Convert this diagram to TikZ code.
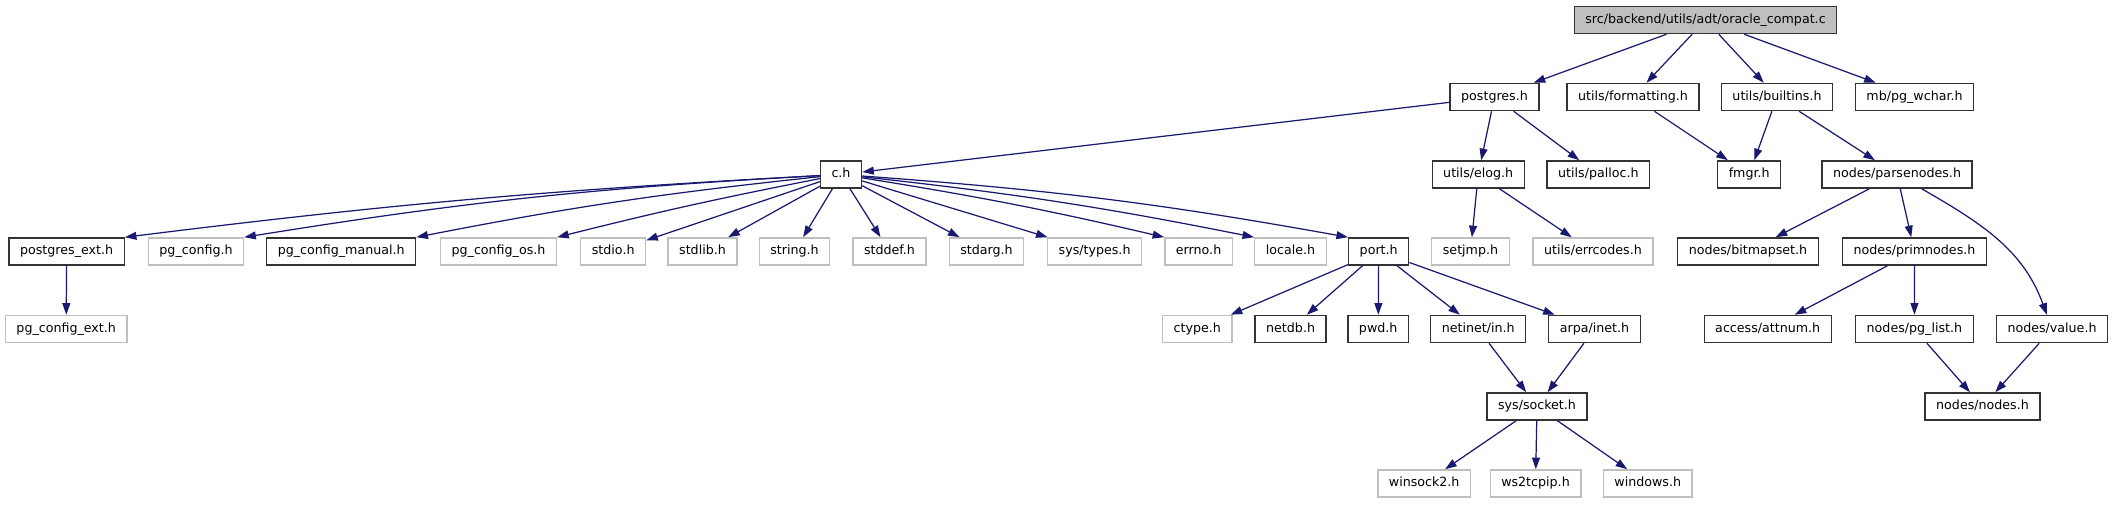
\documentclass[tikz,border=0pt]{standalone}
\usepackage{fontspec}
\setmainfont{DejaVu Sans}
\usetikzlibrary{arrows.meta}
\definecolor{edgeblue}{HTML}{191970}
\definecolor{extgray}{HTML}{BFBFBF}
\definecolor{boxline}{HTML}{333333}

\begin{document}
\begin{tikzpicture}[
  x=0.02cm, y=-0.02cm,
  hdr/.style={draw=boxline,line width=0.75pt,rectangle,inner xsep=6.3pt,inner ysep=0pt,
    minimum height=15.5pt,text height=5.4pt,text depth=1.6pt,font=\fontsize{7.2}{8.6}\selectfont},
  exthdr/.style={hdr,draw=extgray},
  rootnode/.style={hdr,fill=extgray},
  dep/.style={draw=edgeblue,line width=0.7pt,-{Triangle[length=6.6pt,width=4.5pt]}}
]
\path[use as bounding box,fill=white] (0,0) rectangle (2112,504);

% top
\node[rootnode] (root) at (1705.5,20) {src/backend/utils/adt/oracle\_compat.c};

\node[hdr] (pgres) at (1494.5,97) {postgres.h};
\node[hdr] (ufmt) at (1633,97) {utils/formatting.h};
\node[hdr] (ubuilt) at (1777,97) {utils/builtins.h};
\node[hdr] (wchar) at (1914.5,97) {mb/pg\_wchar.h};

\node[hdr] (ch) at (841,174.5) {c.h};
\node[hdr] (elog) at (1478.2,174.5) {utils/elog.h};
\node[hdr] (palloc) at (1598.4,174.5) {utils/palloc.h};
\node[hdr] (fmgr) at (1749.2,174.5) {fmgr.h};
\node[hdr] (pnodes) at (1897,174.5) {nodes/parsenodes.h};

% what c.h pulls in
\node[hdr] (pgext) at (66.6,251.5) {postgres\_ext.h};
\node[exthdr] (pgconf) at (196,251.5) {pg\_config.h};
\node[hdr] (pgman) at (341.2,251.5) {pg\_config\_manual.h};
\node[exthdr] (pgos) at (498.5,251.5) {pg\_config\_os.h};
\node[exthdr] (stdio) at (613.2,251.5) {stdio.h};
\node[exthdr] (stdlib) at (702.5,251.5) {stdlib.h};
\node[exthdr] (string) at (794.5,251.5) {string.h};
\node[exthdr] (stddef) at (889.5,251.5) {stddef.h};
\node[exthdr] (stdarg) at (986.5,251.5) {stdarg.h};
\node[exthdr] (systypes) at (1094.6,251.5) {sys/types.h};
\node[exthdr] (errno) at (1198.6,251.5) {errno.h};
\node[exthdr] (locale) at (1290.5,251.5) {locale.h};
\node[hdr] (port) at (1378.7,251.5) {port.h};
\node[exthdr] (setjmp) at (1470.5,251.5) {setjmp.h};
\node[exthdr] (errcodes) at (1593,251.5) {utils/errcodes.h};
\node[hdr] (bitmap) at (1748,251.5) {nodes/bitmapset.h};
\node[hdr] (prim) at (1914.5,251.5) {nodes/primnodes.h};

\node[exthdr] (pgcext) at (66.2,329) {pg\_config\_ext.h};
\node[exthdr] (ctype) at (1197.3,329) {ctype.h};
\node[hdr] (netdb) at (1290.6,329) {netdb.h};
\node[hdr] (pwd) at (1378.2,329) {pwd.h};
\node[hdr] (netin) at (1478.2,329) {netinet/in.h};
\node[hdr] (arpa) at (1594.5,329) {arpa/inet.h};
\node[hdr] (attnum) at (1767.7,329) {access/attnum.h};
\node[hdr] (pglist) at (1914.4,329) {nodes/pg\_list.h};
\node[hdr] (value) at (2052,329) {nodes/value.h};

\node[hdr] (socket) at (1537,406.5) {sys/socket.h};
\node[hdr] (nodes) at (1982.5,406.5) {nodes/nodes.h};

\node[exthdr] (wsock) at (1424.2,483.5) {winsock2.h};
\node[exthdr] (wstcp) at (1535.5,483.5) {ws2tcpip.h};
\node[exthdr] (windows) at (1647.7,483.5) {windows.h};

% includes
\path (root) edge[dep] (pgres)
(root) edge[dep] (ufmt)
(root) edge[dep] (ubuilt)
(root) edge[dep] (wchar)
(pgres) edge[dep] (ch)
(pgres) edge[dep] (elog)
(pgres) edge[dep] (palloc)
(ufmt) edge[dep] (fmgr)
(ubuilt) edge[dep] (fmgr)
(ubuilt) edge[dep] (pnodes);

\path (ch) edge[dep,bend right=2] (pgext.north east)
(ch) edge[dep,bend right=3] (pgconf.north east)
(ch) edge[dep,bend right=2.5] (pgman.north east)
(ch) edge[dep,bend right=1.5] (pgos.north east)
(ch) edge[dep] (stdio)
(ch) edge[dep] (stdlib)
(ch) edge[dep] (string)
(ch) edge[dep] (stddef)
(ch) edge[dep] (stdarg)
(ch) edge[dep] (systypes)
(ch) edge[dep,bend left=2] (errno.north west)
(ch) edge[dep,bend left=2.5] (locale.north west)
(ch) edge[dep,bend left=3] (port.north west);

\path (elog) edge[dep] (setjmp)
(elog) edge[dep] (errcodes)
(pnodes) edge[dep] (bitmap)
(pnodes) edge[dep] (prim)
(pnodes) edge[dep,out=-30,in=110] (value)
(pgext) edge[dep] (pgcext)
(port) edge[dep] (ctype)
(port) edge[dep] (netdb)
(port) edge[dep] (pwd)
(port) edge[dep] (netin)
(port) edge[dep] (arpa)
(prim) edge[dep] (attnum)
(prim) edge[dep] (pglist)
(netin) edge[dep] (socket)
(arpa) edge[dep] (socket)
(pglist) edge[dep] (nodes)
(value) edge[dep] (nodes)
(socket) edge[dep] (wsock)
(socket) edge[dep] (wstcp)
(socket) edge[dep] (windows);
\end{tikzpicture}
\end{document}
